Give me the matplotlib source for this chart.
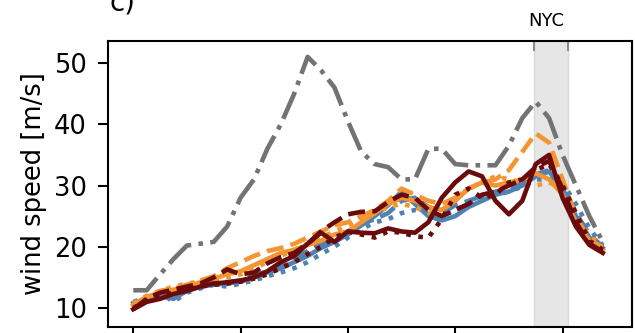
#!/usr/bin/env python3

import numpy as np
import matplotlib
matplotlib.use("Agg")
import matplotlib.pyplot as plt
import matplotlib.transforms as mtransforms

# hours since start, 3-hourly
hours = np.arange(0, 106, 3)

# observed / reference wind speed (grey dash-dot)
ref_wind = [12.9, 12.9, 15.5, 18.0, 20.2, 20.5, 20.8, 23.3, 28.0, 31.0, 36.0, 40.0,
            45.0, 51.0, 48.8, 46.0, 40.5, 35.5, 33.5, 33.0, 31.0, 31.0, 36.0, 36.0,
            33.5, 33.3, 33.3, 33.3, 36.5, 41.0, 43.7, 41.0, 35.0, 30.0, 25.0, 20.8]

blue_solid = [10.8, 11.5, 12.0, 11.5, 12.8, 13.5, 13.8, 14.0, 14.3, 15.0, 15.8, 16.5,
              17.5, 18.5, 19.8, 20.8, 22.0, 23.5, 25.0, 26.8, 29.0, 27.0, 25.0, 24.3,
              25.0, 26.5, 27.5, 28.5, 29.0, 30.0, 31.5, 32.3, 29.5, 25.0, 21.5, 19.8]
blue_dashed = [10.5, 11.8, 12.3, 12.0, 13.0, 14.0, 14.5, 14.2, 14.5, 15.3, 16.0, 17.0,
               18.0, 19.3, 20.5, 21.5, 22.5, 23.8, 24.5, 25.5, 27.5, 28.0, 26.5, 25.5,
               26.8, 27.5, 28.3, 29.0, 29.5, 30.5, 31.8, 32.5, 30.0, 25.5, 22.0, 20.0]
blue_dotted = [11.0, 11.8, 12.5, 11.0, 12.5, 13.2, 13.8, 13.5, 14.0, 14.5, 15.2, 15.8,
               16.5, 17.5, 18.8, 20.0, 21.5, 22.8, 24.0, 24.5, 25.5, 26.0, 25.5, 25.0,
               26.0, 27.0, 28.0, 28.5, 29.0, 29.8, 31.0, 31.0, 30.5, 27.0, 23.0, 20.2]

orange_solid = [10.5, 11.8, 12.5, 13.0, 13.5, 14.2, 14.8, 15.5, 16.0, 17.0, 18.0, 19.0,
                19.5, 20.3, 21.0, 22.0, 22.5, 24.0, 25.5, 27.0, 28.0, 27.5, 26.5, 26.0,
                27.5, 29.5, 30.5, 30.0, 30.5, 31.0, 32.0, 31.0, 28.5, 24.0, 21.0, 19.5]
orange_dashed = [10.2, 11.5, 12.8, 13.2, 13.8, 14.5, 15.2, 16.5, 17.5, 18.5, 19.3, 19.8,
                 20.5, 21.5, 22.5, 23.5, 24.0, 25.0, 26.0, 27.5, 29.5, 28.5, 27.5, 27.0,
                 28.0, 29.5, 30.5, 31.0, 32.5, 35.5, 38.5, 37.0, 31.0, 25.0, 21.0, 20.0]
orange_dotted = [10.8, 12.0, 12.8, 13.5, 14.0, 14.3, 14.6, 15.0, 15.5, 16.5, 17.5, 18.5,
                 19.5, 20.5, 21.5, 22.5, 23.5, 24.5, 25.5, 26.5, 27.0, 26.5, 25.5, 26.0,
                 28.0, 29.5, 30.5, 31.5, 31.0, 30.5, 30.0, 30.5, 29.5, 25.5, 21.5, 20.5]

red_solid = [9.8, 11.0, 11.5, 12.3, 12.8, 13.5, 14.0, 14.2, 14.5, 15.0, 16.0, 17.5,
             18.5, 20.5, 22.3, 20.8, 22.5, 22.3, 22.2, 23.0, 22.5, 22.3, 24.0, 28.0,
             30.5, 32.3, 31.5, 27.5, 25.3, 27.5, 33.5, 35.0, 28.0, 23.3, 20.3, 19.0]
red_dashed = [9.8, 11.5, 12.5, 13.0, 13.5, 14.0, 15.0, 16.3, 15.5, 15.8, 17.3, 18.3,
              19.0, 20.5, 22.5, 24.0, 25.3, 25.7, 25.8, 27.3, 28.5, 28.0, 26.0, 25.0,
              26.0, 27.0, 28.5, 29.0, 30.0, 31.0, 33.0, 34.0, 29.5, 24.0, 20.5, 19.2]
red_dotted = [10.0, 11.2, 12.0, 12.5, 13.0, 13.5, 13.8, 14.0, 14.3, 14.8, 15.5, 16.5,
              17.5, 18.8, 20.0, 21.5, 22.5, 22.0, 21.5, 22.5, 22.3, 21.7, 21.5, 24.5,
              28.5, 29.5, 28.0, 28.5, 30.5, 31.0, 32.5, 33.5, 30.0, 25.5, 21.0, 19.5]

# NYC landfall window (hours)
nyc_start, nyc_end = 89.6, 97.2

BLUE = "#4f81b3"
ORANGE = "#f39530"
RED = "#6b0a0a"
GREY = "#737373"

plt.rcParams["font.family"] = "DejaVu Sans"

fig = plt.figure(figsize=(6.35, 3.33), dpi=100)
ax = fig.add_axes([0.170, 0.018, 0.825, 0.859])

ax.axvspan(nyc_start, nyc_end, facecolor="#e6e6e6", edgecolor="#d9d9d9", lw=1.0, zorder=0)

lw = 3.3
ax.plot(hours, ref_wind, color=GREY, ls="-.", lw=lw)

series = [
    (blue_dotted, BLUE, ":"),
    (blue_dashed, BLUE, "--"),
    (blue_solid, BLUE, "-"),
    (orange_dotted, ORANGE, ":"),
    (orange_solid, ORANGE, "-"),
    (orange_dashed, ORANGE, "--"),
    (red_dotted, RED, ":"),
    (red_dashed, RED, "--"),
    (red_solid, RED, "-"),
]
for vals, col, ls in series:
    ax.plot(hours, vals, color=col, ls=ls, lw=lw)

ax.set_xlim(-5.66, 111.5)
ax.set_ylim(6.9, 53.6)
ax.set_xticks([0, 24, 48, 72, 96])
ax.set_yticks([10, 20, 30, 40, 50])
ax.tick_params(axis="both", labelsize=18.5, length=7.5, width=1.5, pad=7.5)
ax.tick_params(axis="x", labelbottom=False)
for s in ax.spines.values():
    s.set_linewidth(1.5)
ax.set_ylabel("wind speed [m/s]", fontsize=18.5, labelpad=5)

# top markers for the NYC window
top = ax.secondary_xaxis("top")
top.set_xticks([nyc_start, nyc_end])
top.set_xticklabels(["", ""])
top.tick_params(direction="in", length=7, width=1.5, color="#8c8c8c")
top.spines["top"].set_visible(False)

trans = mtransforms.blended_transform_factory(ax.transData, ax.transAxes)
ax.text(92.3, 1.07, "NYC", transform=trans, ha="center", va="center", fontsize=13)

# panel letter, partly clipped at the top edge like the source figure
fig.text(0.173, 1 - 10 / 333, "c)", fontsize=20, ha="left", va="baseline")

fig.savefig("out.png", dpi=100)
